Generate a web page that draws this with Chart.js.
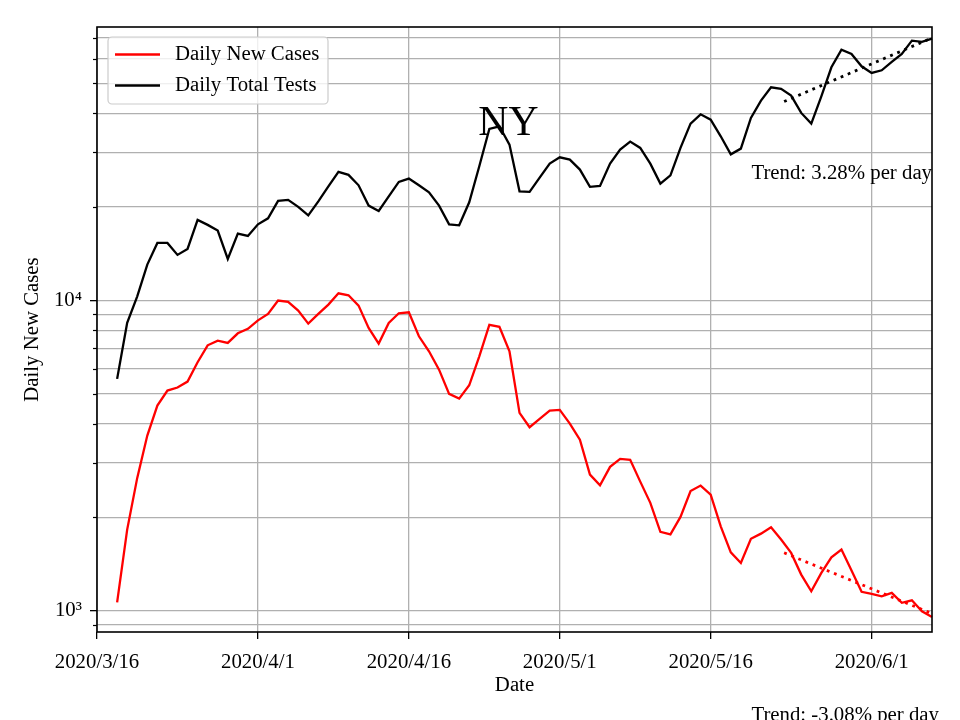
<!DOCTYPE html>
<html>
<head>
<meta charset="utf-8">
<script src="https://cdn.jsdelivr.net/npm/chart.js@4.4.1/dist/chart.umd.min.js"></script>
<style>
  html, body { margin: 0; padding: 0; background: #fff; }
</style>
</head>
<body>
<canvas id="myChart" width="960" height="720"></canvas>
<script>
// days are counted from 2020/3/16; the series start on 2020/3/18
const firstDay = 2;
const dailyNewCases = [
  1063, 1824, 2677, 3664, 4578, 5117, 5233, 5470, 6313, 7161,
  7415, 7290, 7827, 8090, 8620, 9041, 9978, 9881, 9264, 8413,
  9041, 9686, 10534, 10378, 9614, 8148, 7253, 8457, 9081, 9148,
  7656, 6849, 5977, 4993, 4822, 5322, 6601, 8331, 8210, 6849,
  4337, 3898, 4148, 4412, 4435, 4005, 3556, 2744, 2533, 2905,
  3083, 3061, 2604, 2224, 1793, 1761, 2004, 2427, 2528, 2365,
  1869, 1541, 1424, 1703, 1770, 1855, 1694, 1534, 1306, 1154,
  1323, 1485, 1572, 1346, 1149, 1132, 1112, 1140, 1059, 1079,
  995, 954
];
const dailyTotalTests = [
  5581, 8457, 10297, 13032, 15311, 15311, 14008, 14644, 18158, 17500,
  16774, 13596, 16406, 16125, 17576, 18377, 20907, 21067, 19999, 18788,
  20845, 23301, 25935, 25363, 23474, 20194, 19414, 21636, 24079, 24674,
  23474, 22289, 20194, 17576, 17444, 20694, 27033, 35674, 36369, 31760,
  22455, 22353, 24857, 27573, 28889, 28404, 26381, 23200, 23370, 27573,
  30599, 32467, 30982, 27573, 23775, 25289, 30982, 37105, 39757, 38223,
  33771, 29541, 30822, 38704, 44016, 48587, 48019, 45667, 40171, 37105,
  45430, 56353, 64254, 62246, 56771, 54057, 55111, 58664, 62246, 68692,
  68032, 69729
];

// dotted trend lines (start and end)
const trendDays = [68.3, 83];
const testsTrend = [43700, 70100];
const casesTrend = [1535, 978];
const trendTexts = ["Trend: 3.28% per day", "Trend: -3.08% per day"];

const tickDays = [0, 16, 31, 46, 61, 77];
const tickLabels = ["2020/3/16", "2020/4/1", "2020/4/16", "2020/5/1", "2020/5/16", "2020/6/1"];
const yTicks = [900, 1000, 2000, 3000, 4000, 5000, 6000, 7000, 8000, 9000,
  10000, 20000, 30000, 40000, 50000, 60000, 70000];
const yLabels = { 1000: "10\u00b3", 10000: "10\u2074" };

const serif = "'Liberation Serif', 'Times New Roman', 'DejaVu Serif', serif";
const font = { family: serif, size: 20.8 };
const gridColor = "#b0b0b0";

const toPoints = (arr) => arr.map((v, i) => ({ x: firstDay + i, y: v }));
const toTrend = (arr) => arr.map((v, i) => ({ x: trendDays[i], y: v }));

// frame, minor ticks, legend and texts drawn on top
const decorations = {
  id: "decorations",
  afterDraw(chart) {
    const ctx = chart.ctx;
    const area = chart.chartArea;
    const xs = chart.scales.x;
    const ys = chart.scales.y;
    ctx.save();

    // minor ticks on the y axis
    ctx.strokeStyle = "#000";
    ctx.lineWidth = 1.2;
    yTicks.forEach((v) => {
      if (yLabels[v]) return;
      const py = Math.round(ys.getPixelForValue(v)) + 0.5;
      ctx.beginPath();
      ctx.moveTo(area.left - 4, py);
      ctx.lineTo(area.left, py);
      ctx.stroke();
    });

    // axes frame
    ctx.lineWidth = 1.6;
    ctx.strokeStyle = "#000";
    ctx.strokeRect(area.left, area.top, area.right - area.left, area.bottom - area.top);

    // legend
    const lx = area.left + 11, ly = area.top + 10, lw = 220, lh = 67;
    ctx.beginPath();
    ctx.roundRect(lx, ly, lw, lh, 4);
    ctx.fillStyle = "rgba(255,255,255,0.8)";
    ctx.fill();
    ctx.lineWidth = 1.2;
    ctx.strokeStyle = "#cccccc";
    ctx.stroke();
    ctx.font = "20.8px " + serif;
    ctx.textBaseline = "middle";
    ctx.textAlign = "left";
    chart.data.datasets.slice(0, 2).forEach((ds, i) => {
      const yy = ly + 18 + i * 31;
      ctx.beginPath();
      ctx.strokeStyle = ds.borderColor;
      ctx.lineWidth = 2.4;
      ctx.moveTo(lx + 7, yy - 0.5);
      ctx.lineTo(lx + 52, yy - 0.5);
      ctx.stroke();
      ctx.fillStyle = "#000";
      ctx.fillText(ds.label, lx + 67, yy);
    });

    // state name
    ctx.textBaseline = "alphabetic";
    ctx.textAlign = "center";
    ctx.font = "41.7px " + serif;
    ctx.fillStyle = "#000";
    ctx.fillText("NY", xs.getPixelForValue(40.9), ys.getPixelForValue(34200));

    // trend texts
    ctx.textAlign = "left";
    ctx.font = "20.8px " + serif;
    ctx.fillText(trendTexts[0], xs.getPixelForValue(65.05), ys.getPixelForValue(24600));
    ctx.fillText(trendTexts[1], xs.getPixelForValue(65.05), ys.getPixelForValue(440));
    ctx.restore();
  },
};

const ctx = document.getElementById("myChart").getContext("2d");
new Chart(ctx, {
  type: "line",
  data: {
    datasets: [
      {
        label: "Daily New Cases",
        data: toPoints(dailyNewCases),
        borderColor: "#ff0000",
        borderWidth: 2.3,
        pointRadius: 0,
        tension: 0,
        clip: 1,
      },
      {
        label: "Daily Total Tests",
        data: toPoints(dailyTotalTests),
        borderColor: "#000000",
        borderWidth: 2.3,
        pointRadius: 0,
        tension: 0,
        clip: 1,
      },
      {
        label: "tests trend",
        data: toTrend(testsTrend),
        borderColor: "#000000",
        borderWidth: 2.8,
        borderDash: [2.8, 4.9],
        pointRadius: 0,
        clip: 0,
      },
      {
        label: "cases trend",
        data: toTrend(casesTrend),
        borderColor: "#ff0000",
        borderWidth: 2.8,
        borderDash: [2.8, 4.9],
        pointRadius: 0,
        clip: 0,
      },
    ],
  },
  options: {
    responsive: false,
    animation: false,
    devicePixelRatio: 1,
    layout: { padding: { left: 0, right: 28, top: 27, bottom: 0 } },
    plugins: { legend: { display: false }, tooltip: { enabled: false } },
    scales: {
      x: {
        type: "linear",
        min: 0,
        max: 83,
        afterBuildTicks: (s) => {
          s.ticks = tickDays.map((v) => ({ value: v }));
        },
        afterFit: (s) => {
          s.height = 88;
        },
        ticks: {
          callback: (v) => tickLabels[tickDays.indexOf(v)],
          font: font,
          color: "#000",
          maxRotation: 0,
          autoSkip: false,
          padding: 11,
        },
        grid: {
          color: gridColor,
          lineWidth: 1.3,
          tickLength: 7,
          tickColor: "#000",
          tickWidth: 1.3,
        },
        border: { display: false },
        title: {
          display: true,
          text: "Date",
          font: font,
          color: "#000",
          padding: { top: 0, bottom: 22 },
        },
      },
      y: {
        type: "logarithmic",
        min: 853,
        max: 76000,
        afterBuildTicks: (s) => {
          s.ticks = yTicks.map((v) => ({ value: v }));
        },
        afterFit: (s) => {
          s.width = 97;
        },
        ticks: {
          callback: (v) => yLabels[v] || "",
          font: font,
          color: "#000",
          autoSkip: false,
          padding: 8,
        },
        grid: {
          color: gridColor,
          lineWidth: 1.3,
          tickLength: 7,
          tickWidth: 1.3,
          tickColor: (c) => (c.tick && yLabels[c.tick.value] ? "#000" : "rgba(0,0,0,0)"),
        },
        border: { display: false },
        title: {
          display: true,
          text: "Daily New Cases",
          font: font,
          color: "#000",
          padding: { top: 20, bottom: 0 },
        },
      },
    },
  },
  plugins: [decorations],
});
</script>
</body>
</html>
